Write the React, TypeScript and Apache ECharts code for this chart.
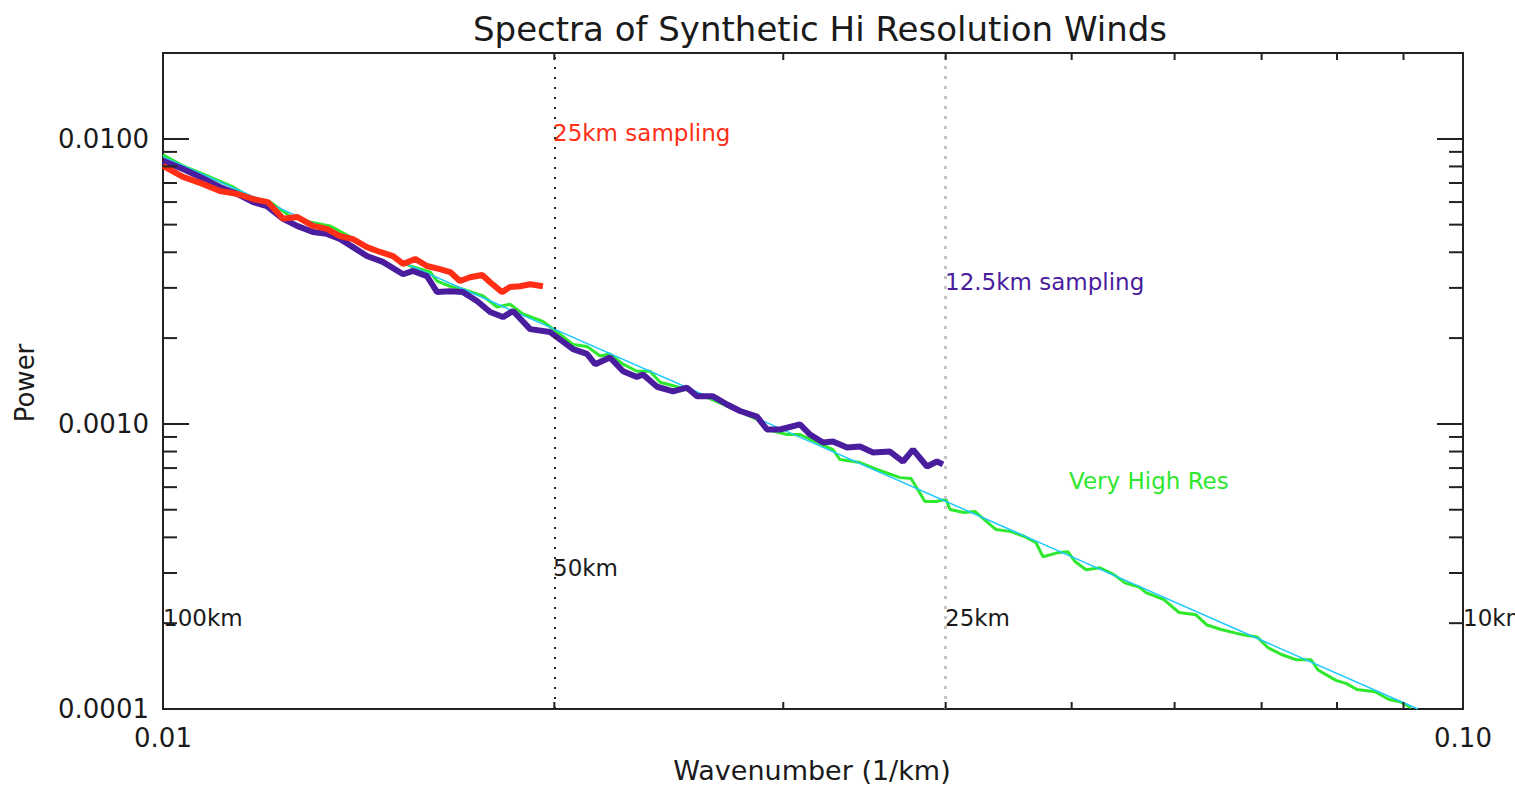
import React, { useEffect, useRef } from "react";
import * as echarts from "echarts";

// Wavenumber (1/km) vs Power
const fitLine: number[][] = [
  [0.01, 0.00864],
  [0.0923, 0.0001],
];

const veryHighRes: number[][] = [
  [0.01, 0.00879], [0.01036, 0.00804], [0.01073, 0.00753], [0.01132, 0.00678],
  [0.01167, 0.00625], [0.01209, 0.006], [0.01252, 0.00536], [0.01297, 0.00511],
  [0.01344, 0.00495], [0.01393, 0.00453], [0.01443, 0.00411], [0.01495, 0.00388],
  [0.01549, 0.00358], [0.01605, 0.00341], [0.01625, 0.00317], [0.01663, 0.00304],
  [0.01701, 0.00297], [0.01763, 0.00281], [0.01807, 0.00257], [0.01849, 0.00263],
  [0.01892, 0.00243], [0.0196, 0.00229], [0.0201, 0.0021], [0.02067, 0.0019],
  [0.02119, 0.00187], [0.02169, 0.00173], [0.02207, 0.00176], [0.02259, 0.00162],
  [0.02315, 0.00153], [0.02369, 0.00153], [0.02412, 0.0014], [0.02485, 0.00135],
  [0.02589, 0.001269], [0.0273, 0.001143], [0.02864, 0.001037], [0.02915, 0.000956],
  [0.0302, 0.000918], [0.0309, 0.000918], [0.03185, 0.000861], [0.03276, 0.000813],
  [0.03317, 0.00075], [0.03437, 0.000732], [0.03542, 0.000692], [0.03689, 0.000648],
  [0.03762, 0.000643], [0.03856, 0.000534], [0.03932, 0.000534], [0.04002, 0.000543],
  [0.04031, 0.000501], [0.04132, 0.000489], [0.04213, 0.000493], [0.04266, 0.000469],
  [0.04373, 0.000426], [0.04491, 0.000419], [0.04603, 0.000402], [0.04694, 0.000383],
  [0.04753, 0.000342], [0.04872, 0.000353], [0.04968, 0.000356], [0.0503, 0.000329],
  [0.05129, 0.000308], [0.05257, 0.000313], [0.05389, 0.000296], [0.05495, 0.000277],
  [0.05633, 0.000268], [0.05704, 0.000256], [0.05888, 0.000242], [0.06047, 0.000218],
  [0.06232, 0.000214], [0.06355, 0.000197], [0.06514, 0.00019], [0.06773, 0.000182],
  [0.06943, 0.000179], [0.0708, 0.000164], [0.07257, 0.000155], [0.07439, 0.000149],
  [0.0764, 0.000149], [0.07735, 0.000137], [0.07986, 0.000126], [0.08128, 0.000123],
  [0.08288, 0.000117], [0.08557, 0.000115], [0.08772, 0.000108], [0.08945, 0.000106],
  [0.0912, 0.000101],
];

const sampling12p5: number[][] = [
  [0.01, 0.00837], [0.01036, 0.00784], [0.01068, 0.00735], [0.01106, 0.00678],
  [0.0114, 0.00641], [0.01173, 0.006], [0.01202, 0.00581], [0.01237, 0.00524],
  [0.01268, 0.00495], [0.01304, 0.00471], [0.01337, 0.00464], [0.01368, 0.00445],
  [0.014, 0.00417], [0.01435, 0.00388], [0.01476, 0.0037], [0.0153, 0.00335],
  [0.01557, 0.00344], [0.01596, 0.0033], [0.01625, 0.0029], [0.01663, 0.00292],
  [0.01701, 0.0029], [0.01744, 0.0027], [0.01785, 0.00247], [0.01826, 0.00237],
  [0.01859, 0.00249], [0.01916, 0.00215], [0.01985, 0.0021], [0.0202, 0.00198],
  [0.02067, 0.00183], [0.02119, 0.00176], [0.0215, 0.00162], [0.02207, 0.00171],
  [0.02259, 0.00153], [0.02315, 0.00146], [0.0234, 0.00149], [0.02399, 0.00135],
  [0.02468, 0.0013], [0.0253, 0.00134], [0.02575, 0.00125], [0.02649, 0.00125],
  [0.02716, 0.00117], [0.02779, 0.00111], [0.02864, 0.00106], [0.02915, 0.000956],
  [0.02983, 0.000956], [0.0309, 0.000996], [0.03146, 0.000918], [0.03219, 0.000861],
  [0.03276, 0.000868], [0.03359, 0.000826], [0.03437, 0.000833], [0.03517, 0.000794],
  [0.03624, 0.0008], [0.03709, 0.000738], [0.03775, 0.000813], [0.0387, 0.000709],
  [0.03939, 0.000738], [0.03981, 0.000721],
];

const sampling25: number[][] = [
  [0.01, 0.00804], [0.01036, 0.00735], [0.01073, 0.00695], [0.01106, 0.00656],
  [0.0114, 0.00641], [0.01173, 0.00615], [0.01204, 0.006], [0.01237, 0.00524],
  [0.01268, 0.00532], [0.01304, 0.00495], [0.01337, 0.00483], [0.01368, 0.00456],
  [0.014, 0.00445], [0.01435, 0.00417], [0.01469, 0.00401], [0.01503, 0.00388],
  [0.0153, 0.00364], [0.01563, 0.00379], [0.01596, 0.00358], [0.01633, 0.00349],
  [0.01663, 0.00341], [0.01692, 0.00317], [0.01723, 0.00327], [0.0176, 0.00333],
  [0.01785, 0.00314], [0.01823, 0.0029], [0.01849, 0.00302], [0.01882, 0.00304],
  [0.01916, 0.00309], [0.0196, 0.00304],
];

const xMinorTicks: number[] = [0.02, 0.03, 0.04, 0.05, 0.06, 0.07, 0.08, 0.09];
const yMinorTicks: number[] = [
  0.0002, 0.0003, 0.0004, 0.0005, 0.0006, 0.0007, 0.0008, 0.0009,
  0.002, 0.003, 0.004, 0.005, 0.006, 0.007, 0.008, 0.009,
];
const scaleMarks: number[] = [0.02, 0.04];

const X_MIN = 0.01;
const X_MAX = 0.1;
const Y_MIN = 0.0001;
const Y_MAX = 0.02;

const FONT = "DejaVu Sans";
const INK = "#1a1a1a";

const isDecade = (v: number) => Math.abs(Math.log10(v) - Math.round(Math.log10(v))) < 1e-6;

export default function App() {
  const ref = useRef<HTMLDivElement>(null);

  useEffect(() => {
    if (!ref.current) return;
    const chart = echarts.init(ref.current, undefined, { renderer: "svg" });

    const option: any = {
      animation: false,
      backgroundColor: "#ffffff",
      grid: {
        left: 163,
        right: 52,
        top: 53,
        bottom: 86,
        show: true,
        borderColor: "#222",
        borderWidth: 2,
        backgroundColor: "transparent",
      },
      xAxis: {
        type: "log",
        logBase: 10,
        min: X_MIN,
        max: X_MAX,
        axisLine: { show: false },
        axisTick: { show: false },
        splitLine: { show: false },
        axisLabel: {
          margin: 16,
          fontFamily: FONT,
          fontSize: 26,
          color: INK,
          formatter: (v: number) => (isDecade(v) ? v.toFixed(2) : ""),
        },
      },
      yAxis: [
        {
          type: "log",
          logBase: 10,
          min: Y_MIN,
          max: Y_MAX,
          axisLine: { show: false },
          axisTick: { show: true, inside: true, length: 26, lineStyle: { color: "#222", width: 2 } },
          splitLine: { show: false },
          axisLabel: {
            margin: 14,
            fontFamily: FONT,
            fontSize: 26,
            color: INK,
            formatter: (v: number) => (isDecade(v) ? v.toFixed(4) : ""),
          },
        },
        {
          type: "log",
          logBase: 10,
          min: Y_MIN,
          max: Y_MAX,
          position: "right",
          axisLine: { show: false },
          axisTick: { show: true, inside: true, length: 26, lineStyle: { color: "#222", width: 2 } },
          splitLine: { show: false },
          axisLabel: { show: false },
        },
      ],
      series: [
        {
          name: "Very High Res",
          type: "line",
          data: veryHighRes,
          symbol: "none",
          z: 2,
          lineStyle: { color: "#2ee82e", width: 3 },
          markLine: {
            silent: true,
            symbol: "none",
            label: { show: false },
            data: [
              { xAxis: scaleMarks[0], lineStyle: { color: "#222", width: 2, type: [2, 8] } },
              { xAxis: scaleMarks[1], lineStyle: { color: "#c4c4c4", width: 3, type: [3, 7] } },
            ],
          },
        },
        {
          name: "Fit",
          type: "line",
          data: fitLine,
          symbol: "none",
          z: 3,
          lineStyle: { color: "#1ec8ff", width: 1.5 },
        },
        {
          name: "12.5km sampling",
          type: "line",
          data: sampling12p5,
          symbol: "none",
          z: 4,
          lineStyle: { color: "#4a1c9e", width: 6 },
        },
        {
          name: "25km sampling",
          type: "line",
          data: sampling25,
          symbol: "none",
          z: 5,
          lineStyle: { color: "#ff2e14", width: 6 },
        },
        {
          name: "yMinorTicks",
          type: "custom",
          silent: true,
          z: 6,
          data: yMinorTicks.map((v) => [X_MIN, v]),
          renderItem: (params: any, api: any) => {
            const cs = params.coordSys;
            const p = api.coord([api.value(0), api.value(1)]);
            const style = { stroke: "#222", lineWidth: 2 };
            return {
              type: "group",
              children: [
                { type: "line", shape: { x1: cs.x, y1: p[1], x2: cs.x + 14, y2: p[1] }, style },
                { type: "line", shape: { x1: cs.x + cs.width - 14, y1: p[1], x2: cs.x + cs.width, y2: p[1] }, style },
              ],
            };
          },
        },
        {
          name: "xMinorTicks",
          type: "custom",
          silent: true,
          z: 6,
          data: xMinorTicks.map((v) => [v, Y_MIN]),
          renderItem: (params: any, api: any) => {
            const cs = params.coordSys;
            const p = api.coord([api.value(0), api.value(1)]);
            const style = { stroke: "#222", lineWidth: 2 };
            const b = cs.y + cs.height;
            return {
              type: "group",
              children: [
                { type: "line", shape: { x1: p[0], y1: b, x2: p[0], y2: b - 7 }, style },
                { type: "line", shape: { x1: p[0], y1: cs.y, x2: p[0], y2: cs.y + 7 }, style },
              ],
            };
          },
        },
      ],
      graphic: [
        {
          type: "text",
          x: 820,
          y: 29,
          style: {
            text: "Spectra of Synthetic Hi Resolution Winds",
            font: `34px '${FONT}'`,
            fill: INK,
            align: "center",
            verticalAlign: "middle",
          },
        },
        {
          type: "text",
          x: 812,
          y: 770,
          style: {
            text: "Wavenumber (1/km)",
            font: `27px '${FONT}'`,
            fill: INK,
            align: "center",
            verticalAlign: "middle",
          },
        },
        {
          type: "text",
          x: 25,
          y: 383,
          rotation: Math.PI / 2,
          style: {
            text: "Power",
            font: `26px '${FONT}'`,
            fill: INK,
            align: "center",
            verticalAlign: "middle",
          },
        },
        { type: "text", x: 553, y: 133, style: { text: "25km sampling", font: `23px '${FONT}'`, fill: "#ff2e14", verticalAlign: "middle" } },
        { type: "text", x: 945, y: 282, style: { text: "12.5km sampling", font: `23px '${FONT}'`, fill: "#4a1c9e", verticalAlign: "middle" } },
        { type: "text", x: 1069, y: 481, style: { text: "Very High Res", font: `23px '${FONT}'`, fill: "#2ee82e", verticalAlign: "middle" } },
        { type: "text", x: 553, y: 568, style: { text: "50km", font: `23px '${FONT}'`, fill: INK, verticalAlign: "middle" } },
        { type: "text", x: 163, y: 618, style: { text: "100km", font: `23px '${FONT}'`, fill: INK, verticalAlign: "middle" } },
        { type: "text", x: 945, y: 618, style: { text: "25km", font: `23px '${FONT}'`, fill: INK, verticalAlign: "middle" } },
        { type: "text", x: 1463, y: 618, style: { text: "10km", font: `23px '${FONT}'`, fill: INK, verticalAlign: "middle" } },
      ],
    };

    chart.setOption(option);
    return () => {
      chart.dispose();
    };
  }, []);

  return (
    <div
      ref={ref}
      style={{ position: "fixed", left: 0, top: 0, width: 1515, height: 795, background: "#fff" }}
    />
  );
}
